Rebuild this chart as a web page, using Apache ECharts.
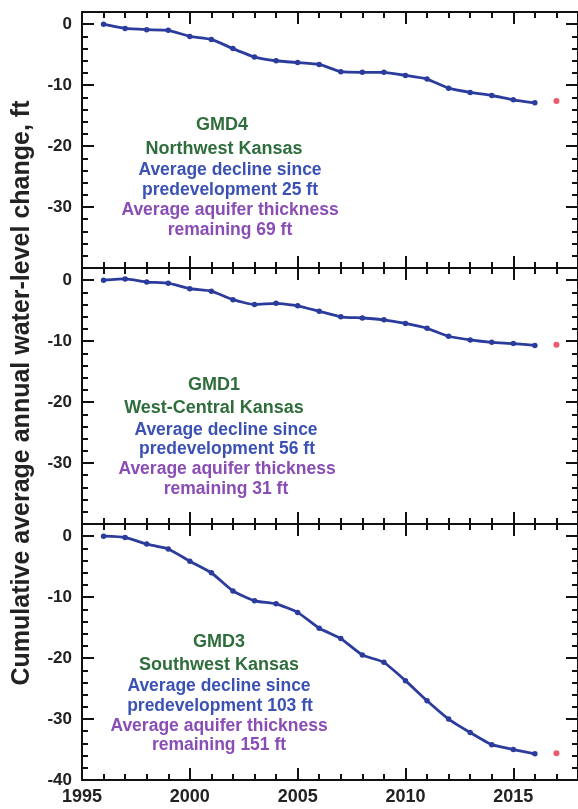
<!DOCTYPE html>
<html>
<head>
<meta charset="utf-8">
<script src="https://cdn.jsdelivr.net/npm/echarts@6/dist/echarts.min.js"></script>
<style>
  html, body { margin: 0; padding: 0; background: #fff; }
  #chart { width: 578px; height: 809px; }
</style>
</head>
<body>
<div id="chart"></div>
<script>
// Years of record
const years = [1996, 1997, 1998, 1999, 2000, 2001, 2002, 2003, 2004, 2005, 2006,
               2007, 2008, 2009, 2010, 2011, 2012, 2013, 2014, 2015, 2016];

// Cumulative average annual water-level change (ft), by district
const gmd4 = [0, -0.7, -0.9, -1.0, -2.0, -2.5, -4.0, -5.4, -6.0, -6.3, -6.6,
              -7.8, -7.9, -7.9, -8.4, -9.0, -10.5, -11.2, -11.7, -12.4, -12.9];
const gmd1 = [0, 0.2, -0.3, -0.5, -1.4, -1.8, -3.2, -4.0, -3.8, -4.2, -5.1,
              -6.0, -6.2, -6.5, -7.1, -7.9, -9.2, -9.8, -10.2, -10.4, -10.7];
const gmd3 = [0, -0.2, -1.3, -2.1, -4.1, -6.0, -9.0, -10.6, -11.1, -12.5, -15.1,
              -16.8, -19.5, -20.7, -23.7, -27.0, -30.0, -32.2, -34.2, -35.0, -35.7];

// Preliminary 2017 values
const extraYear = 2017;
const gmd4Extra = -12.6;
const gmd1Extra = -10.6;
const gmd3Extra = -35.6;

// Axis ranges and tick steps
const xMin = 1995, xMax = 2018, xMajor = 5, xMinor = 1;
const yMin = -40, yMax = 2, yMajor = 10, yMinor = 2;

// Panel text
const panels = [
  { name: 'GMD4', region: 'Northwest Kansas', decline: 25, thickness: 69, values: gmd4, extra: gmd4Extra },
  { name: 'GMD1', region: 'West-Central Kansas', decline: 56, thickness: 31, values: gmd1, extra: gmd1Extra },
  { name: 'GMD3', region: 'Southwest Kansas', decline: 103, thickness: 151, values: gmd3, extra: gmd3Extra }
];

const yTitle = 'Cumulative average annual water-level change, ft';

// ---- layout / style ----
const gridLeft = 82;
const gridTops = [12, 268, 524];
const gridHeight = 256;
const textCenterX = [[222, 224, 230, 230, 230, 230],
                     [214, 214, 226, 227, 227, 226],
                     [219, 219, 219, 220, 219, 219]];
const textTops = [[125, 149, 170, 190, 210, 230],
                  [385, 408, 430, 449, 469, 489],
                  [642, 665, 686, 706, 726, 745]];

const ink = '#111';
const lineColor = '#2b3c9c';
const redColor = '#e5324b';
const green = '#2f6e3c';
const blue = '#3b52b4';
const purple = '#8a4db5';
const fontFamily = '"Liberation Sans", Arial, sans-serif';

const grids = [], xAxes = [], yAxes = [], series = [], graphics = [];

panels.forEach((p, g) => {
  grids.push({ left: gridLeft, right: -3, top: gridTops[g], height: gridHeight });

  const isLast = g === panels.length - 1;
  const xBase = {
    gridIndex: g, type: 'value', min: xMin, max: xMax,
    splitLine: { show: false }
  };
  const xIdx = xAxes.length;
  // bottom: major ticks with labels on last panel
  xAxes.push(Object.assign({}, xBase, {
    position: 'bottom', interval: xMajor,
    axisLine: { show: true, onZero: false, lineStyle: { color: ink, width: 2 } },
    axisTick: { show: true, inside: true, length: 12, lineStyle: { color: ink, width: 2 } },
    axisLabel: isLast ? {
      show: true, showMaxLabel: false, color: '#222', fontSize: 18, fontWeight: 'bold',
      fontFamily: fontFamily, margin: 8, formatter: v => String(v)
    } : { show: false }
  }));
  // bottom: minor ticks
  xAxes.push(Object.assign({}, xBase, {
    position: 'bottom', interval: xMinor,
    axisLine: { show: false, onZero: false },
    axisTick: { show: true, inside: true, length: 6, lineStyle: { color: ink, width: 2 } },
    axisLabel: { show: false }
  }));
  // top: major + minor
  xAxes.push(Object.assign({}, xBase, {
    position: 'top', interval: xMajor,
    axisLine: { show: true, onZero: false, lineStyle: { color: ink, width: 2 } },
    axisTick: { show: true, inside: true, length: 12, lineStyle: { color: ink, width: 2 } },
    axisLabel: { show: false }
  }));
  xAxes.push(Object.assign({}, xBase, {
    position: 'top', interval: xMinor,
    axisLine: { show: false, onZero: false },
    axisTick: { show: true, inside: true, length: 6, lineStyle: { color: ink, width: 2 } },
    axisLabel: { show: false }
  }));

  const yBase = {
    gridIndex: g, type: 'value', min: yMin, max: yMax,
    splitLine: { show: false }
  };
  const yIdx = yAxes.length;
  yAxes.push(Object.assign({}, yBase, {
    position: 'left', interval: yMajor,
    axisLine: { show: true, onZero: false, lineStyle: { color: ink, width: 2 } },
    axisTick: { show: true, inside: true, length: 12, lineStyle: { color: ink, width: 2 } },
    axisLabel: {
      show: true, showMaxLabel: false, showMinLabel: isLast,
      color: '#222', fontSize: 17, fontWeight: 'bold', fontFamily: fontFamily, margin: 10
    }
  }));
  yAxes.push(Object.assign({}, yBase, {
    position: 'left', interval: yMinor,
    axisLine: { show: false, onZero: false },
    axisTick: { show: true, inside: true, length: 6, lineStyle: { color: ink, width: 2 } },
    axisLabel: { show: false }
  }));
  yAxes.push(Object.assign({}, yBase, {
    position: 'right', interval: yMajor,
    axisLine: { show: true, onZero: false, lineStyle: { color: ink, width: 2 } },
    axisTick: { show: true, inside: true, length: 12, lineStyle: { color: ink, width: 2 } },
    axisLabel: { show: false }
  }));
  yAxes.push(Object.assign({}, yBase, {
    position: 'right', interval: yMinor,
    axisLine: { show: false, onZero: false },
    axisTick: { show: true, inside: true, length: 6, lineStyle: { color: ink, width: 2 } },
    axisLabel: { show: false }
  }));

  series.push({
    type: 'line', xAxisIndex: xIdx, yAxisIndex: yIdx,
    data: years.map((yr, i) => [yr, p.values[i]]),
    smooth: 0.15,
    symbol: 'circle', symbolSize: 5.5,
    lineStyle: { color: lineColor, width: 2.8 },
    itemStyle: { color: lineColor },
    animation: false, z: 3
  });
  series.push({
    type: 'scatter', xAxisIndex: xIdx, yAxisIndex: yIdx,
    data: [[extraYear, p.extra]],
    symbol: 'circle', symbolSize: 6,
    itemStyle: { color: redColor },
    animation: false, z: 3
  });

  const lines = [
    [p.name, green, 18],
    [p.region, green, 18],
    ['Average decline since', blue, 17.5],
    ['predevelopment ' + p.decline + ' ft', blue, 17.5],
    ['Average aquifer thickness', purple, 17.5],
    ['remaining ' + p.thickness + ' ft', purple, 17.5]
  ];
  lines.forEach((ln, k) => {
    graphics.push({
      type: 'text', x: textCenterX[g][k], y: textTops[g][k],
      style: {
        text: ln[0], fill: ln[1], font: 'bold ' + ln[2] + 'px ' + fontFamily,
        textAlign: 'center', textVerticalAlign: 'middle'
      },
      z: 10
    });
  });
});

graphics.push({
  type: 'text', x: 22, y: 393, rotation: Math.PI / 2,
  style: {
    text: yTitle, fill: '#222', font: 'bold 25px ' + fontFamily,
    textAlign: 'center', textVerticalAlign: 'middle'
  },
  z: 10
});

const chart = echarts.init(document.getElementById('chart'), null, { renderer: 'canvas' });
chart.setOption({
  backgroundColor: '#fff',
  animation: false,
  grid: grids,
  xAxis: xAxes,
  yAxis: yAxes,
  series: series,
  graphic: graphics
});
</script>
</body>
</html>
